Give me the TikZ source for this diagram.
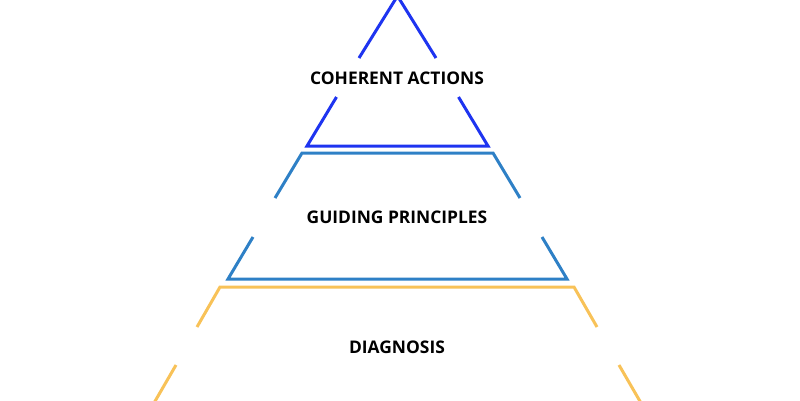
\documentclass[tikz,border=0pt]{standalone}
\usepackage{fontspec}
\newfontfamily\tierfont{Open Sans}
\definecolor{actblue}{HTML}{1E34F0}
\definecolor{guideblue}{HTML}{2E80C6}
\definecolor{diagyellow}{HTML}{F8C258}
\tikzset{
	tier/.style={line width=3pt,line join=miter},
	tierlabel/.style={font=\tierfont\bfseries\fontsize{17.4}{20}\selectfont,text=black}
}
\begin{document}
\begin{tikzpicture}[x=1pt,y=-1pt]
					\useasboundingbox (0,0) rectangle (800,400);
					% top triangle
					\coordinate (P) at (397.5,-4);
					\coordinate (A1) at (359,58);
					\coordinate (A2) at (436,58);
					\coordinate (A3) at (336.5,97);
					\coordinate (A4) at (458.5,97);
					\coordinate (A5) at (307,146);
					\coordinate (A6) at (488,146);
					\draw[tier,actblue] (A1)--(P)--(A2) (A3)--(A5)--(A6)--(A4);
					% middle band
					\coordinate (G1) at (302,153);
					\coordinate (G2) at (493,153);
					\coordinate (G3) at (275,198);
					\coordinate (G4) at (520,198);
					\coordinate (G5) at (253,237);
					\coordinate (G6) at (542,237);
					\coordinate (G7) at (228,279);
					\coordinate (G8) at (567,279);
					\draw[tier,guideblue] (G3)--(G1)--(G2)--(G4) (G5)--(G7)--(G8)--(G6);
					% bottom band
					\coordinate (D1) at (220,287);
					\coordinate (D2) at (574,287);
					\coordinate (D3) at (197,327);
					\coordinate (D4) at (597,327);
					\coordinate (D5) at (176,365);
					\coordinate (D6) at (619,365);
					\coordinate (D7) at (154,403);
					\coordinate (D8) at (641,403);
					\draw[tier,diagyellow] (D3)--(D1)--(D2)--(D4) (D5)--(D7) (D6)--(D8);
					\node[tierlabel] (actions) at (397,78) {COHERENT ACTIONS};
					\node[tierlabel] (principles) at (397,217) {GUIDING PRINCIPLES};
					\node[tierlabel] (diagnosis) at (397,347) {DIAGNOSIS};
\end{tikzpicture}
\end{document}
